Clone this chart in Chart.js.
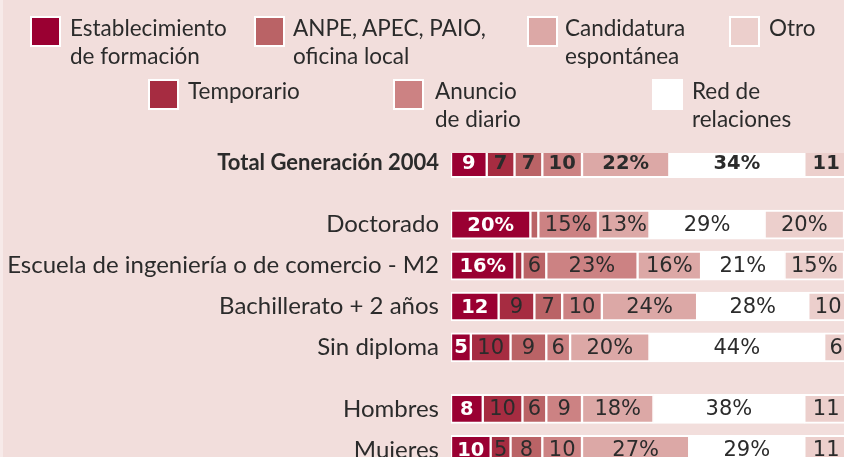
<!DOCTYPE html>
<html>
<head>
<meta charset="utf-8">
<script src="https://cdn.jsdelivr.net/npm/chart.js@4"></script>
<style>
  html, body { margin: 0; padding: 0; overflow: hidden; background: #F2DEDC; }
  body { width: 844px; height: 457px; position: relative; border-left: 3px solid #F7EAE9; box-sizing: border-box; }
  #wrap { position: absolute; left: -3px; top: 0; width: 848px; height: 460px; }
  .lg { position: absolute; font-family: Lato, "Open Sans", sans-serif; font-size: 22.5px; line-height: 28px; color: #2b2b2b; }
  .sw { position: absolute; width: 27px; height: 27px; border: 2px solid #fff; }
</style>
</head>
<body>
<div id="wrap"><canvas id="chart"></canvas></div>
<div id="legend"></div>
<script>
const categories = ['Total Generación 2004', 'Doctorado', 'Escuela de ingeniería o de comercio - M2',
  'Bachillerato + 2 años', 'Sin diploma', 'Hombres', 'Mujeres'];
const seriesNames = ['Establecimiento de formación', 'Temporario', 'ANPE, APEC, PAIO, oficina local',
  'Anuncio de diario', 'Candidatura espontánea', 'Red de relaciones', 'Otro'];
const establecimiento = [9, 20, 16, 12, 5, 8, 10];
const temporario = [7, 0, 2, 9, 10, 10, 5];
const anpe = [7, 2, 6, 7, 9, 6, 8];
const anuncio = [10, 15, 23, 10, 6, 9, 10];
const candidatura = [22, 13, 16, 24, 20, 18, 27];
const red = [34, 29, 21, 28, 44, 38, 29];
const otro = [11, 20, 15, 10, 6, 11, 11];

const colors = ['#9A0032', '#A62C41', '#BA6366', '#CC8283', '#DCA8A6', '#FFFFFF', '#ECCFCC'];

// layout: row slot of each category (blank slots make the gaps)
const rowSlot = [0, 3, 5, 7, 9, 12, 14];
const slotCount = 15;

const slotLabels = new Array(slotCount).fill('');
rowSlot.forEach((s, i) => slotLabels[s] = categories[i]);
function toSlots(arr) {
  const out = new Array(slotCount).fill(null);
  rowSlot.forEach((s, i) => out[s] = arr[i]);
  return out;
}

const allSeries = [establecimiento, temporario, anpe, anuncio, candidatura, red, otro];
const FONT = 'Lato, "Open Sans", sans-serif';
const NUMFONT = '"DejaVu Sans", sans-serif';

const segLabels = {
  id: 'segLabels',
  afterDatasetsDraw(chart) {
    const c = chart.ctx;
    c.save();
    c.textAlign = 'center';
    c.textBaseline = 'middle';
    chart.data.datasets.forEach((ds, i) => {
      const meta = chart.getDatasetMeta(i);
      meta.data.forEach((el, j) => {
        const v = ds.data[j];
        if (v == null || v < 4) return;
        const bold = i === 0 || j === rowSlot[0];
        c.font = bold ? 'bold 19.5px ' + NUMFONT : '21px ' + NUMFONT;
        c.fillStyle = i === 0 ? '#ffffff' : '#2b2b2b';
        const txt = v >= 13 ? v + '%' : String(v);
        c.fillText(txt, (el.x + el.base) / 2, el.y + 1);
      });
    });
    c.restore();
  }
};

new Chart(document.getElementById('chart'), {
  type: 'bar',
  data: {
    labels: slotLabels,
    datasets: allSeries.map((arr, i) => ({
      label: seriesNames[i],
      data: toSlots(arr),
      backgroundColor: colors[i],
      borderColor: '#ffffff',
      borderWidth: { top: 2, bottom: 2, left: 1.5, right: 1.5 },
      borderSkipped: false,
      barThickness: 29
    }))
  },
  options: {
    indexAxis: 'y',
    responsive: true,
    maintainAspectRatio: false,
    animation: false,
    layout: { padding: { top: 153, left: 0, right: 0, bottom: 0 } },
    plugins: { legend: { display: false }, tooltip: { enabled: false } },
    scales: {
      x: { stacked: true, display: false, min: 0, max: 100 },
      y: {
        stacked: true,
        grid: { display: false, drawTicks: false },
        border: { display: false },
        afterFit(scale) {
          scale.width = 451;
          scale.paddingTop = 0;
          scale.paddingBottom = 0;
        },
        ticks: {
          autoSkip: false,
          padding: 12,
          color: '#2b2b2b',
          font: (ctx) => ctx.index === rowSlot[0]
            ? { family: FONT, size: 22, weight: 'bold' }
            : { family: FONT, size: 24, weight: 'normal' }
        }
      }
    }
  },
  plugins: [segLabels]
});

// legend layout: [swatch left, top, text left, text width]
const legendPos = [
  [27, 16, 67, 170],
  [145, 79, 185, 150],
  [251, 16, 290, 215],
  [390, 79, 432, 100],
  [524, 16, 562, 135],
  [649, 79, 689, 112],
  [726, 16, 766, 80]
];
const lg = document.getElementById('legend');
seriesNames.forEach((name, i) => {
  const [sx, sy, tx, tw] = legendPos[i];
  const sw = document.createElement('div');
  sw.className = 'sw';
  sw.style.left = sx + 'px';
  sw.style.top = sy + 'px';
  sw.style.background = colors[i];
  lg.appendChild(sw);
  const t = document.createElement('div');
  t.className = 'lg';
  t.style.left = tx + 'px';
  t.style.top = (sy - 2) + 'px';
  t.style.width = tw + 'px';
  t.textContent = name;
  lg.appendChild(t);
});
</script>
</body>
</html>
